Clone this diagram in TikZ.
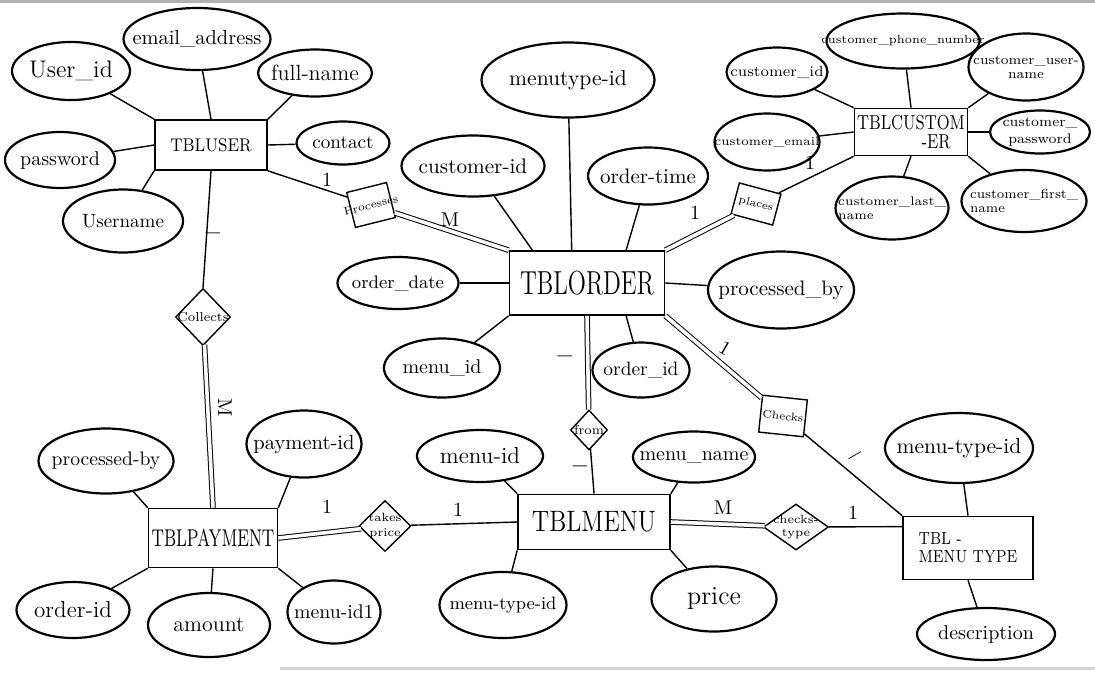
\documentclass[tikz,border=0pt]{standalone}
\usepackage{graphicx}
\usetikzlibrary{shapes.geometric}

\newcommand{\tx}[1]{\makebox[0pt]{#1}}
\newcommand{\tall}[2]{\scalebox{1}[#1]{#2}}

\begin{document}
\begin{tikzpicture}[x=0.5pt,y=-0.5pt,
  attr/.style 2 args={ellipse,draw=black,line width=1.1pt,inner sep=0pt,minimum width=#1*0.5pt,minimum height=#2*0.5pt},
  entity/.style 2 args={rectangle,draw=black,line width=0.8pt,inner sep=0pt,minimum width=#1*0.5pt,minimum height=#2*0.5pt},
  relbox/.style 2 args={rectangle,draw=black,line width=0.7pt,inner sep=0pt,minimum width=#1*0.5pt,minimum height=#2*0.5pt,font=\fontsize{5.5}{6}\selectfont},
  reldia/.style 2 args={diamond,draw=black,line width=0.7pt,inner sep=0pt,minimum width=#1*0.5pt,minimum height=#2*0.5pt,font=\fontsize{6.5}{7}\selectfont},
  fs/.style={font=\fontsize{#1}{#1}\selectfont},
  link/.style={draw=black,line width=0.7pt},
  dlink/.style={draw=black,line width=0.5pt,double,double distance=1.8pt},
  card/.style={inner sep=0pt,font=\fontsize{10}{10}\selectfont},
  dashmark/.style={inner sep=0pt,font=\fontsize{13}{13}\selectfont\bfseries}]

\useasboundingbox (0,0) rectangle (1095,675);

% scan edges:
\draw[gray!60,line width=1.5pt] (0,1) -- (1095,1);
\draw[gray!35,line width=1.5pt] (280,668) -- (1095,668);

% tables:
\node[entity={112}{50},fs=8] (user) at (211,145) {\tall{1.15}{TBLUSER}};
\node[entity={155}{64},fs=11.9] (order) at (587,283) {\tall{1.4}{TBLORDER}};
\node[entity={113}{47},fs=7.8,align=center] (cust) at (911,132) {\tall{1.3}{TBLCUSTOM}\\[2pt]\hspace*{25pt}\tall{1.3}{-ER}};
\node[entity={152}{55},fs=12.3] (menu) at (594,522) {\tall{1.2}{TBLMENU}};
\node[entity={129}{59},fs=8.1] (pay) at (213,538) {\tall{1.5}{TBLPAYMENT}};
\node[entity={130}{63},fs=7,align=left] (mtype) at (968,548) {\tall{1.25}{TBL -}\\[2pt]\tall{1.25}{MENU TYPE}};

% TBLUSER attributes:
\node[attr={118}{58},fs=12] (uid) at (71,71) {\tx{User\_id}};
\node[attr={147}{62},fs=10.2] (uemail) at (197,39) {\tx{email\_address}};
\node[attr={114}{47},fs=11] (ufull) at (315,73) {\tx{full-name}};
\node[attr={93}{43},fs=9.6] (ucontact) at (343,143) {\tx{contact}};
\node[attr={110}{56},fs=10] (upass) at (60,160) {\tx{password}};
\node[attr={120}{63},fs=9.5] (uname) at (123,221) {\tx{Username}};

% TBLORDER attributes:
\node[attr={173}{75},fs=10.8] (omtid) at (568,80) {\tx{menutype-id}};
\node[attr={143}{61},fs=10.6] (ocid) at (473,166) {\tx{customer-id}};
\node[attr={120}{57},fs=10.5] (otime) at (648,176) {\tx{order-time}};
\node[attr={121}{52},fs=9.1] (odate) at (398,283) {\tx{order\_date}};
\node[attr={146}{77},fs=10.5] (oproc) at (781,290) {\tx{processed\_by}};
\node[attr={116}{59},fs=10] (omid) at (442,368) {\tx{menu\_id}};
\node[attr={97}{55},fs=9.7] (ooid) at (641,370) {\tx{order\_id}};

% TBLCUSTOMER attributes:
\node[attr={101}{49},fs=7.4] (ccid) at (777,72) {\tx{customer\_id}};
\node[attr={153}{55},fs=5.9] (cphone) at (903,41) {\tx{customer\_phone\_number}};
\node[attr={115}{67},fs=6.8] (cuser) at (1026,67) {\tx{\shortstack{customer\_user-\\name}}};
\node[attr={105}{57},fs=6.1] (cemail) at (767,142) {\tx{customer\_email}};
\node[attr={100}{43},fs=7] (cpass) at (1040,132) {\tx{\shortstack{customer\_\\password}}};
\node[attr={113}{63},fs=6.3] (clast) at (892,208) {\tx{\shortstack[l]{customer\_last\_\\name}}};
\node[attr={125}{62},fs=6.6] (cfirst) at (1024,201) {\tx{\shortstack[l]{customer\_first\_\\name}}};

% TBLMENU attributes:
\node[attr={126}{52},fs=11.6] (mid) at (480,456) {\tx{menu-id}};
\node[attr={122}{51},fs=10] (mname) at (694,457) {\tx{menu\_name}};
\node[attr={127}{66},fs=9] (mtid) at (503,605) {\tx{menu-type-id}};
\node[attr={125}{65},fs=13] (mprice) at (714,599) {\tx{price}};

% TBL-MENUTYPE attributes:
\node[attr={148}{70},fs=10.8] (ttid) at (959,448) {\tx{menu-type-id}};
\node[attr={138}{52},fs=10] (tdesc) at (986,634) {\tx{description}};

% TBLPAYMENT attributes:
\node[attr={135}{65},fs=9.8] (pproc) at (106,461) {\tx{processed-by}};
\node[attr={115}{67},fs=10.3] (ppid) at (304,444) {\tx{payment-id}};
\node[attr={113}{56},fs=11.5] (poid) at (73,610) {\tx{order-id}};
\node[attr={122}{64},fs=11] (pamt) at (209,625) {\tx{amount}};
\node[attr={93}{63},fs=9.9] (pmid) at (334,612) {\tx{menu-id1}};

% relationships:
\node[relbox={41}{36},rotate=14] (procs) at (371,205) {\tx{Processes}};
\node[relbox={43}{32},rotate=-15] (places) at (756,204) {\tx{places}};
\node[relbox={45}{37},rotate=-6] (checks) at (783,416) {\tx{Checks}};
\node[reldia={55}{57}] (collects) at (203,317) {\tx{Collects}};
\node[reldia={37}{40}] (from) at (589,430) {\tx{from}};
\node[reldia={52}{51},fs=6] (takes) at (385,526) {\tx{\shortstack{takes\\price}}};
\node[reldia={65}{46},fs=6] (chtype) at (796,527) {\tx{\shortstack{checks-\\type}}};

% attribute links:
\draw[link] (uid) -- (user.north west);
\draw[link] (uemail) -- (user.north);
\draw[link] (ufull) -- (user.north east);
\draw[link] (ucontact) -- (user.east);
\draw[link] (upass) -- (user.west);
\draw[link] (uname) -- (user.south west);
\draw[link] (ocid) -- (order.149);
\draw[link] (omtid) -- (order.115);
\draw[link] (otime) -- (order.40);
\draw[link] (odate) -- (order.west);
\draw[link] (oproc) -- (order.east);
\draw[link] (omid) -- (order.south west);
\draw[link] (ooid) -- (order.-40);
\draw[link] (ccid) -- (cust.north west);
\draw[link] (cphone) -- (cust.north);
\draw[link] (cuser) -- (cust.north east);
\draw[link] (cemail) -- (cust.west);
\draw[link] (cpass) -- (cust.east);
\draw[link] (clast) -- (cust.south);
\draw[link] (cfirst) -- (cust.south east);
\draw[link] (mid) -- (menu.north west);
\draw[link] (mname) -- (menu.north east);
\draw[link] (mtid) -- (menu.south west);
\draw[link] (mprice) -- (menu.south east);
\draw[link] (ttid) -- (mtype.north);
\draw[link] (tdesc) -- (mtype.south);
\draw[link] (pproc) -- (pay.north west);
\draw[link] (ppid) -- (pay.north east);
\draw[link] (poid) -- (pay.south west);
\draw[link] (pamt) -- (pay.south);
\draw[link] (pmid) -- (pay.south east);

% relationship links:
\draw[link] (user.south east) -- (procs);
\draw[dlink] (procs) -- (order.north west);
\draw[dlink] (order.north east) -- (places);
\draw[link] (places) -- (cust.south west);
\draw[link] (user.south) -- (collects.north);
\draw[dlink] (collects) -- (pay.north);
\draw[dlink] (order.south) -- (from);
\draw[link] (from) -- (menu.north);
\draw[dlink] (order.south east) -- (checks);
\draw[link] (checks) -- (mtype.north west);
\draw[dlink] (pay.east) -- (takes);
\draw[link] (takes) -- (menu.west);
\draw[dlink] (menu.east) -- (chtype);
\draw[link] (chtype) -- (mtype.162);

% cardinalities:
\node[card] (k1) at (327,180) {1};
\node[card] (k2) at (450,220) {M};
\node[card] (k3) at (695,213) {1};
\node[card] (k4) at (810,163) {1};
\node[dashmark] (k5) at (213,237) {--};
\node[card,rotate=-90] (k6) at (225,408) {M};
\node[dashmark] (k7) at (565,360) {--};
\node[card,rotate=-30] (k8) at (725,348) {1};
\node[dashmark] (k9) at (580,470) {--};
\node[dashmark,rotate=30] (k10) at (857,459) {--};
\node[card] (k11) at (327,507) {1};
\node[card] (k12) at (458,510) {1};
\node[card] (k13) at (723,508) {M};
\node[card] (k14) at (853,513) {1};

\end{tikzpicture}
\end{document}
